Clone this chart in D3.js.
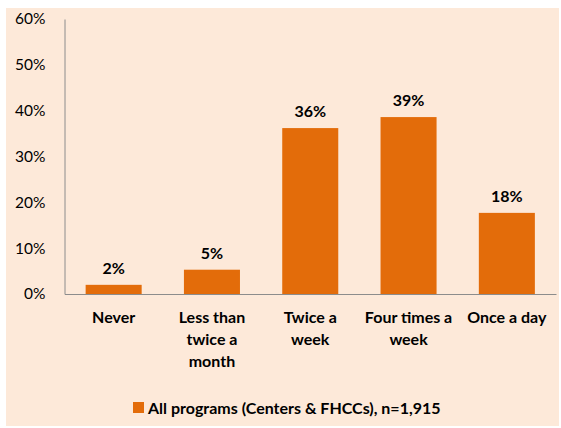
<!DOCTYPE html>
<html>
<head>
<meta charset="utf-8">
<script src="https://cdn.jsdelivr.net/npm/d3@7"></script>
<style>
  body { margin: 0; background: #fff; }
  svg { display: block; font-family: Lato, "Open Sans", sans-serif; }
</style>
</head>
<body>
<div id="chart"></div>
<script>
    var width = 561,
        height = 428;

    // data
    var categories = ["Never", "Less than twice a month", "Twice a week", "Four times a week", "Once a day"];
    var catLines = [["Never"], ["Less than", "twice a", "month"], ["Twice a", "week"], ["Four times a", "week"], ["Once a day"]];
    var values = [2.0, 5.3, 36.2, 38.6, 17.7];
    var valueLabels = ["2%", "5%", "36%", "39%", "18%"];
    var yTicks = [0, 10, 20, 30, 40, 50, 60];
    var seriesName = "All programs (Centers & FHCCs), n=1,915";

    var colors = { bar: "#e36c0a", bg: "#fde9d9", axis: "#8c8c8c", text: "#000" };

    var svg = d3.select("#chart").append("svg")
      .attr("width", width)
      .attr("height", height);

    svg.append("rect")
      .attr("x", 6).attr("y", 8)
      .attr("width", 553).attr("height", 418)
      .attr("fill", colors.bg);

    var x = d3.scaleBand()
      .domain(categories)
      .range([64.5, 556])
      .paddingInner(0.43)
      .paddingOuter(0.215);

    var y = d3.scaleLinear()
      .domain([0, 60])
      .range([294, 19]);

    // y axis
    var yAxis = svg.append("g")
      .attr("transform", "translate(64.5,0)")
      .call(d3.axisLeft(y).tickValues(yTicks).tickSize(0).tickPadding(19)
        .tickFormat(function(d) { return d + "%"; }));
    yAxis.select(".domain").attr("stroke", colors.axis);
    yAxis.selectAll("text")
      .attr("font-family", "Lato, sans-serif")
      .attr("font-size", 15.5)
      .attr("fill", colors.text);

    // bars
    svg.selectAll(".bar")
      .data(values)
      .enter().append("rect")
      .attr("class", "bar")
      .attr("x", function(d, i) { return x(categories[i]); })
      .attr("y", function(d) { return y(d); })
      .attr("width", x.bandwidth())
      .attr("height", function(d) { return y(0) - y(d); })
      .attr("fill", colors.bar);

    // x axis
    var xAxis = svg.append("g")
      .attr("transform", "translate(0," + y(0) + ")")
      .call(d3.axisBottom(x).tickSize(0).tickFormat(""));
    xAxis.select(".domain").attr("stroke", colors.axis);

    // value labels
    svg.selectAll(".vlabel")
      .data(values)
      .enter().append("text")
      .attr("class", "vlabel")
      .attr("x", function(d, i) { return x(categories[i]) + x.bandwidth() / 2; })
      .attr("y", function(d) { return y(d) - 11; })
      .attr("text-anchor", "middle")
      .attr("font-size", 16)
      .attr("font-weight", "bold")
      .attr("fill", colors.text)
      .text(function(d, i) { return valueLabels[i]; });

    // category labels (wrapped like the original)
    var cat = svg.selectAll(".cat")
      .data(categories)
      .enter().append("text")
      .attr("class", "cat")
      .attr("text-anchor", "middle")
      .attr("font-size", 16)
      .attr("font-weight", "bold")
      .attr("fill", colors.text);
    cat.each(function(d, i) {
      var t = d3.select(this);
      catLines[i].forEach(function(line, k) {
        t.append("tspan")
          .attr("x", x(d) + x.bandwidth() / 2)
          .attr("y", 323 + k * 22)
          .text(line);
      });
    });

    // legend
    var legend = svg.append("g").attr("transform", "translate(133,402)");
    legend.append("rect")
      .attr("width", 11).attr("height", 11)
      .attr("fill", colors.bar);
    legend.append("text")
      .attr("x", 15).attr("y", 11.5)
      .attr("font-size", 16)
      .attr("font-weight", "bold")
      .attr("fill", colors.text)
      .text(seriesName);
</script>
</body>
</html>
